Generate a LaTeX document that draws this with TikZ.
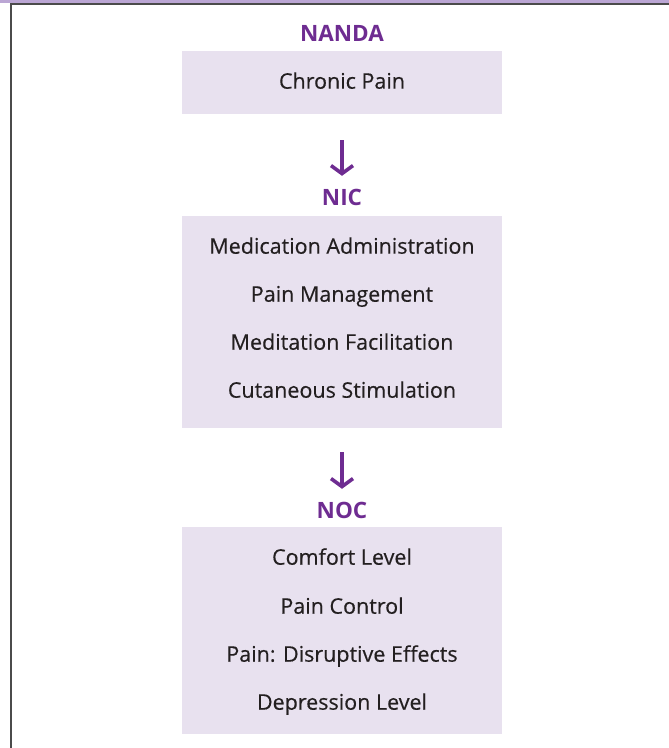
\documentclass[tikz,border=0pt]{standalone}
\usepackage{fontspec}
\setmainfont{Open Sans}
\usepackage{tikz}
\usetikzlibrary{arrows.meta,positioning}

\definecolor{headpurple}{HTML}{6E2C91}
\definecolor{boxfill}{HTML}{E8E1EF}
\definecolor{barpurple}{HTML}{BBA6D4}
\definecolor{framegray}{HTML}{4B4B4B}
\definecolor{itemtext}{HTML}{231F20}

\tikzset{
  heading/.style={text=headpurple,font=\fontsize{22.5}{24}\selectfont\bfseries,
    inner sep=0pt,text height=16pt,text depth=0pt},
  listbox/.style={fill=boxfill,minimum width=320pt,inner sep=0pt,anchor=north},
  item/.style={text=itemtext,font=\fontsize{21.5}{24}\selectfont\addfontfeatures{FakeBold=0.4},
    inner sep=0pt,text height=15.4pt,text depth=0pt},
  downarrow/.style={draw=headpurple,line width=3.6pt,
    -{Straight Barb[length=8pt,width=22pt,line width=3.6pt]}}
}

\begin{document}
\begin{tikzpicture}[x=1pt,y=-1pt]
  \useasboundingbox (0,0) rectangle (669,748);

  % frame: coloured band on top, rule on the left
  \fill[barpurple] (0,0) rectangle (669,3);
  \fill[framegray] (10,3) rectangle (669,4.5);
  \fill[framegray] (10,3) rectangle (11.5,748);

  % headings
  \node[heading] (nanda) at (342,33)  {NANDA};
  \node[heading] (nic)   at (342,197) {NIC};
  \node[heading] (noc)   at (342,510) {NOC};

  % shaded boxes
  \node[listbox,minimum height=63pt]  (diag) at (342,51)  {};
  \node[listbox,minimum height=212pt] (intv) at (342,216) {};
  \node[listbox,minimum height=207pt] (outc) at (342,527) {};

  \begin{scope}[every node/.style={item}]
    \node (d1) at (342,81)  {Chronic Pain};

    \node (i1) at (342,246) {Medication Administration};
    \node (i2) at (342,294) {Pain Management};
    \node (i3) at (342,342) {Meditation Facilitation};
    \node (i4) at (342,390) {Cutaneous Stimulation};

    \node (o1) at (342,557) {Comfort Level};
    \node (o2) at (342,606) {Pain Control};
    \node (o3) at (342,654) {Pain: Disruptive Effects};
    \node (o4) at (342,702) {Depression Level};
  \end{scope}

  % arrows between the stages
  \draw[downarrow,shorten <=26pt,shorten >=13pt] (diag.south) -- (nic.north);
  \draw[downarrow,shorten <=24pt,shorten >=13pt] (intv.south) -- (noc.north);

\end{tikzpicture}
\end{document}
